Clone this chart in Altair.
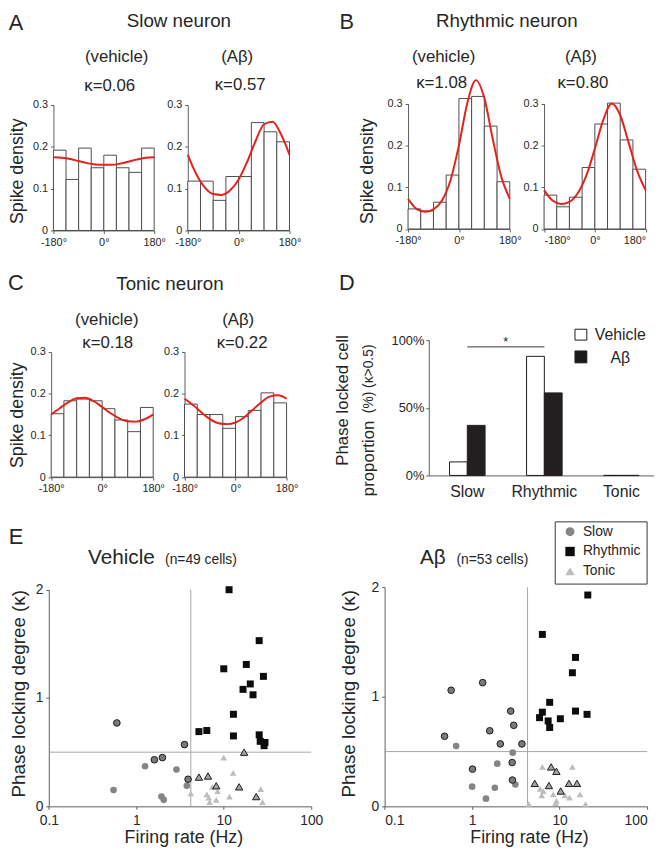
import altair as alt
import pandas as pd

# ------------------------------------------------------------------ data
bin_edges = [-180, -135, -90, -45, 0, 45, 90, 135, 180]
fit_theta = [-180, -150, -120, -90, -60, -30, 0, 30, 60, 90, 120, 150, 180]

slow_veh_hist = [0.192, 0.122, 0.197, 0.150, 0.180, 0.150, 0.139, 0.197]
slow_ab_hist = [0.118, 0.118, 0.072, 0.129, 0.129, 0.258, 0.236, 0.212]
rhy_veh_hist = [0.048, 0.043, 0.064, 0.129, 0.312, 0.317, 0.246, 0.113]
rhy_ab_hist = [0.081, 0.053, 0.076, 0.147, 0.251, 0.301, 0.213, 0.143]
ton_veh_hist = [0.152, 0.183, 0.187, 0.183, 0.164, 0.137, 0.109, 0.167]
ton_ab_hist = [0.175, 0.150, 0.150, 0.117, 0.145, 0.160, 0.202, 0.178]

slow_veh_fit = [0.175, 0.174, 0.171, 0.166, 0.161, 0.158, 0.157, 0.157, 0.160, 0.165, 0.170, 0.174, 0.175]
slow_ab_fit = [0.181, 0.135, 0.103, 0.087, 0.085, 0.096, 0.122, 0.164, 0.214, 0.254, 0.260, 0.230, 0.181]
rhy_veh_fit = [0.072, 0.048, 0.041, 0.047, 0.068, 0.116, 0.200, 0.302, 0.356, 0.313, 0.214, 0.125, 0.072]
rhy_ab_fit = [0.093, 0.068, 0.060, 0.065, 0.086, 0.128, 0.192, 0.261, 0.300, 0.272, 0.206, 0.139, 0.093]
ton_veh_fit = [0.150, 0.165, 0.179, 0.189, 0.190, 0.182, 0.168, 0.153, 0.141, 0.134, 0.133, 0.139, 0.150]
ton_ab_fit = [0.188, 0.173, 0.155, 0.139, 0.129, 0.127, 0.131, 0.143, 0.161, 0.179, 0.193, 0.196, 0.188]

d_categories = ["Slow", "Rhythmic", "Tonic"]
d_vehicle = [0.10, 0.88, 0.0]
d_abeta = [0.37, 0.61, 0.0]

# panel E, vehicle
veh_slow_rate = [0.60, 3.56, 1.99, 1.61, 1.26, 2.88, 3.91, 3.78, 0.55, 1.94, 2.06]
veh_slow_k = [0.77, 0.57, 0.45, 0.43, 0.37, 0.34, 0.25, 0.19, 0.15, 0.09, 0.06]
veh_slow_sig = [1, 1, 1, 1, 0, 0, 1, 0, 0, 0, 0]
veh_rhy_rate = [11.5, 25.4, 10.0, 18.1, 28.4, 20.1, 16.6, 21.6, 12.9, 5.2, 6.4, 12.9, 25.4, 26.1, 28.9, 29.6]
veh_rhy_k = [2.0, 1.53, 1.27, 1.31, 1.20, 1.13, 1.08, 1.03, 0.85, 0.69, 0.70, 0.65, 0.66, 0.60, 0.56, 0.59]
veh_ton_rate = [5.2, 6.6, 8.2, 15.0, 17.1, 23.5, 10.0, 12.8, 4.2, 6.4, 6.75, 6.9, 7.4, 8.5, 8.2, 11.6, 26.5, 27.7]
veh_ton_k = [0.27, 0.28, 0.19, 0.18, 0.50, 0.09, 0.45, 0.31, 0.12, 0.11, 0.08, 0.04, 0.18, 0.14, 0.06, 0.09, 0.16, 0.04]
veh_ton_sig = [1, 1, 1, 1, 1, 1, 0, 0, 0, 0, 0, 0, 0, 0, 0, 0, 0, 0]

# panel E, Abeta
ab_slow_rate = [0.576, 1.32, 2.76, 2.99, 1.59, 0.484, 0.656, 2.10, 3.71, 2.91, 1.94, 2.87, 1.01, 2.89, 3.12, 1.00, 1.82, 1.44]
ab_slow_k = [1.06, 1.13, 0.87, 0.74, 0.69, 0.64, 0.55, 0.57, 0.57, 0.49, 0.39, 0.40, 0.34, 0.24, 0.20, 0.18, 0.17, 0.07]
ab_slow_sig = [1, 1, 1, 1, 1, 1, 0, 1, 1, 0, 0, 1, 1, 1, 0, 0, 0, 0]
ab_rhy_rate = [21.0, 6.35, 15.2, 14.0, 7.7, 6.35, 15.2, 20.6, 5.9, 10.2, 7.4, 7.7]
ab_rhy_k = [1.93, 1.57, 1.36, 1.22, 0.95, 0.86, 0.87, 0.84, 0.81, 0.80, 0.78, 0.72]
ab_ton_rate = [8.0, 9.2, 5.2, 7.55, 10.3, 12.8, 15.8, 6.35, 14.0, 5.98, 6.24, 8.45, 9.2, 8.98, 11.5, 13.0, 17.1, 4.45, 19.8, 6.5]
ab_ton_k = [0.36, 0.32, 0.21, 0.19, 0.14, 0.21, 0.21, 0.36, 0.36, 0.16, 0.10, 0.11, 0.05, 0.03, 0.10, 0.08, 0.11, 0.02, 0.02, 0.14]
ab_ton_sig = [1, 1, 1, 1, 1, 1, 1, 0, 0, 0, 0, 0, 0, 0, 0, 0, 0, 0, 0, 0]

rate_threshold_veh = [4.2]
rate_threshold_ab = [4.3]
kappa_threshold = [0.5]

# ------------------------------------------------------------------ style
W, H = 654, 844
FONT = "Liberation Sans"
TXT = "#262626"
AXC = "#5c5c5c"
RED = "#e3221c"


def px(x):
    return x - 8


def py(y):
    return y - 8


def axis(orient, offset, values, fmt=None, expr=None, size=11, ticks=True, pad=2, flush=False):
    kw = dict(orient=orient, offset=offset, values=values, title=None, grid=False,
              tickSize=3, ticks=ticks, labelFlush=flush, labelOverlap=False, labelAngle=0,
              labelFontSize=size, labelFont=FONT, labelColor=TXT,
              domainColor=AXC, tickColor=AXC, labelPadding=pad)
    if fmt is not None:
        kw["format"] = fmt
    if expr is not None:
        kw["labelExpr"] = expr
    return alt.Axis(**kw)


def txt(s, x, y, size, align="center", baseline="middle", angle=0):
    return alt.Chart(pd.DataFrame({"s": [s]})).mark_text(
        align=align, baseline=baseline, fontSize=size, angle=angle, font=FONT, color=TXT
    ).encode(x=alt.value(px(x)), y=alt.value(py(y)), text="s:N")


def hist_panel(vals, fit, x0, x1, y0, y3, flush=False):
    bars = pd.DataFrame({"b0": bin_edges[:-1], "b1": bin_edges[1:], "v": vals})
    curve = pd.DataFrame({"t": fit_theta, "f": fit})
    xs = alt.Scale(domain=[-180, 180], range=[px(x0), px(x1)], nice=False, zero=False)
    ys = alt.Scale(domain=[0, 0.3], range=[py(y0), py(y3)], nice=False, zero=False)
    xax = axis("bottom", py(y0) - H, [-180, 0, 180], expr="datum.value + '°'", pad=3, flush=flush)
    yax = axis("left", -px(x0), [0, 0.1, 0.2, 0.3], fmt=".1~f", pad=3)
    b = alt.Chart(bars).mark_rect(fill="white", stroke="#4d4d4d", strokeWidth=1).encode(
        x=alt.X("b0:Q", scale=xs, axis=xax), x2="b1:Q",
        y=alt.Y("v:Q", scale=ys, axis=yax), y2=alt.datum(0))
    c = alt.Chart(curve).mark_line(color=RED, strokeWidth=2, interpolate="monotone").encode(
        x=alt.X("t:Q", scale=xs, axis=xax), y=alt.Y("f:Q", scale=ys, axis=yax))
    return alt.layer(b, c)


def d_panel():
    df = pd.DataFrame({"cat": d_categories, "veh": d_vehicle, "ab": d_abeta})
    xs = alt.Scale(domain=d_categories, range=[px(434), px(668)], paddingInner=0, paddingOuter=0)
    ys = alt.Scale(domain=[0, 1], range=[py(476), py(339)], nice=False, zero=False)
    xax = axis("bottom", py(476) - H, d_categories, size=16, ticks=False, pad=8)
    yax = axis("left", -px(434), [0, 0.5, 1], fmt=".0%", size=13, pad=2)
    xe = alt.X("cat:N", scale=xs, axis=xax, sort=d_categories)
    veh = alt.Chart(df).mark_bar(size=18, xOffset=-9, fill="white", stroke="#1a1a1a", strokeWidth=1).encode(
        x=xe, y=alt.Y("veh:Q", scale=ys, axis=yax))
    ab = alt.Chart(df).mark_bar(size=18, xOffset=9, fill="#231f20", stroke="#231f20", strokeWidth=1).encode(
        x=xe, y=alt.Y("ab:Q", scale=ys, axis=yax))
    sig = alt.Chart(pd.DataFrame({"a": ["Slow"], "b": ["Rhythmic"], "y": [0.95]})).mark_rule(
        color="#333", strokeWidth=1).encode(
        x=alt.X("a:N", scale=xs, axis=xax, sort=d_categories), x2="b:N",
        y=alt.Y("y:Q", scale=ys, axis=yax))
    return alt.layer(veh, ab, sig)


def e_panel(sr, sk, ssig, rr, rk, tr, tk, tsig, vline, x0, x1, y0, y2, flush=False):
    slow = pd.DataFrame({"r": sr, "k": sk, "sig": ssig})
    rhy = pd.DataFrame({"r": rr, "k": rk})
    ton = pd.DataFrame({"r": tr, "k": tk, "sig": tsig})
    xs = alt.Scale(type="log", domain=[0.1, 100], range=[px(x0), px(x1)], nice=False)
    ys = alt.Scale(domain=[0, 2], range=[py(y0), py(y2)], nice=False, zero=False)
    xax = axis("bottom", py(y0) - H, [0.1, 1, 10, 100], fmt="~g", size=14, pad=4, flush=flush)
    yax = axis("left", -px(x0), [0, 1, 2], fmt="~g", size=14, pad=3)
    X = alt.X("r:Q", scale=xs, axis=xax)
    Y = alt.Y("k:Q", scale=ys, axis=yax)
    vl = alt.Chart(pd.DataFrame({"r": vline})).mark_rule(color="#a6a6a6", strokeWidth=1).encode(
        x=X, y=alt.Y(datum=0, scale=ys, axis=yax), y2=alt.datum(2))
    hl = alt.Chart(pd.DataFrame({"k": kappa_threshold})).mark_rule(color="#a6a6a6", strokeWidth=1).encode(
        y=Y, x=alt.X(datum=0.1, scale=xs, axis=xax), x2=alt.datum(100))
    t0 = alt.Chart(ton[ton.sig == 0]).mark_point(shape="triangle-up", filled=True, size=45,
                                                  color="#bdbdbd", opacity=1).encode(x=X, y=Y)
    s0 = alt.Chart(slow[slow.sig == 0]).mark_point(shape="circle", filled=True, size=45,
                                                   color="#858585", opacity=1).encode(x=X, y=Y)
    s1 = alt.Chart(slow[slow.sig == 1]).mark_point(shape="circle", filled=True, size=45,
                                                   fill="#7a7a7a", stroke="#1a1a1a", strokeWidth=1,
                                                   opacity=1).encode(x=X, y=Y)
    r = alt.Chart(rhy).mark_point(shape="square", filled=True, size=50, color="#0d0d0d",
                                  opacity=1).encode(x=X, y=Y)
    t1 = alt.Chart(ton[ton.sig == 1]).mark_point(shape="triangle-up", filled=True, size=55,
                                                  fill="#a3a3a3", stroke="#1a1a1a", strokeWidth=1,
                                                  opacity=1).encode(x=X, y=Y)
    return alt.layer(vl, hl, t0, s0, s1, r, t1)


def box(x0, y0, x1, y1, fill, stroke):
    return alt.Chart(pd.DataFrame({"a": [0]})).mark_rect(fill=fill, stroke=stroke, strokeWidth=1).encode(
        x=alt.value(px(x0)), x2=alt.value(px(x1)), y=alt.value(py(y0)), y2=alt.value(py(y1)))


def sym(shape, x, y, size, fill):
    return alt.Chart(pd.DataFrame({"a": [0]})).mark_point(shape=shape, filled=True, size=size,
                                                          color=fill, opacity=1).encode(
        x=alt.value(px(x)), y=alt.value(py(y)))


layers = [
    # panel A
    hist_panel(slow_veh_hist, slow_veh_fit, 54, 156, 228, 101),
    hist_panel(slow_ab_hist, slow_ab_fit, 190, 293, 228, 101),
    # panel B
    hist_panel(rhy_veh_hist, rhy_veh_fit, 413, 516, 226.5, 99.5),
    hist_panel(rhy_ab_hist, rhy_ab_fit, 550.7, 653.5, 226.5, 99.5, flush=True),
    # panel C
    hist_panel(ton_veh_hist, ton_veh_fit, 51.7, 155, 477.7, 351),
    hist_panel(ton_ab_hist, ton_ab_fit, 186.7, 290, 477.7, 351),
    # panel D
    d_panel(),
    # panel E
    e_panel(veh_slow_rate, veh_slow_k, veh_slow_sig, veh_rhy_rate, veh_rhy_k,
            veh_ton_rate, veh_ton_k, veh_ton_sig, rate_threshold_veh, 49.3, 315, 811, 591.7),
    e_panel(ab_slow_rate, ab_slow_k, ab_slow_sig, ab_rhy_rate, ab_rhy_k,
            ab_ton_rate, ab_ton_k, ab_ton_sig, rate_threshold_ab, 389.3, 655, 811, 589.3, flush=True),
]

texts = [
    txt("A", 16, 18, 22), txt("B", 351, 17, 22), txt("C", 16, 281, 22),
    txt("D", 351, 281, 22), txt("E", 16, 538, 22),
    txt("Slow neuron", 181, 16, 19), txt("Rhythmic neuron", 513, 16, 19), txt("Tonic neuron", 172, 282, 19),
    txt("(vehicle)", 118, 52, 17), txt("κ=0.06", 111, 82, 17),
    txt("(Aβ)", 240, 52, 17), txt("κ=0.57", 243, 81, 17),
    txt("(vehicle)", 449, 52, 17), txt("κ=1.08", 447, 79, 17),
    txt("(Aβ)", 588, 52, 17), txt("κ=0.80", 590, 79, 17),
    txt("(vehicle)", 108, 319, 17), txt("κ=0.18", 109, 342, 17),
    txt("(Aβ)", 241, 319, 17), txt("κ=0.22", 245, 342, 17),
    txt("Spike density", 18, 168, 18, angle=270),
    txt("Spike density", 373, 168, 18, angle=270),
    txt("Spike density", 18, 415, 18, angle=270),
    # panel D texts
    txt("Phase locked cell", 347, 400, 17, angle=270),
    txt("proportion", 374, 497, 17, align="left", angle=270),
    txt("(%) (κ>0.5)", 374, 413, 14, align="left", angle=270),
    txt("*", 512, 341, 13),
    box(582, 328, 594, 339, "white", "#1a1a1a"),
    box(582, 350, 594, 362, "#1a1a1a", "#1a1a1a"),
    txt("Vehicle", 602, 334, 16, align="left"),
    txt("Aβ", 618, 357, 16, align="left"),
    # panel E texts
    txt("Vehicle", 89, 566, 21, align="left", baseline="alphabetic"),
    txt("(n=49 cells)", 167, 566, 14, align="left", baseline="alphabetic"),
    txt("Aβ", 425, 566, 21, align="left", baseline="alphabetic"),
    txt("(n=53 cells)", 462, 566, 14, align="left", baseline="alphabetic"),
    txt("Phase locking degree (κ)", 19, 697, 19, angle=270),
    txt("Phase locking degree (κ)", 353, 697, 19, angle=270),
    txt("Firing rate (Hz)", 186, 843, 18),
    txt("Firing rate (Hz)", 536, 843, 18),
    box(562, 523, 655, 586, "white", "#333333"),
    sym("circle", 577, 533, 80, "#858585"),
    sym("square", 577, 553, 90, "#0d0d0d"),
    sym("triangle-up", 577, 573, 90, "#bdbdbd"),
    txt("Slow", 590, 533, 14, align="left"),
    txt("Rhythmic", 590, 553, 14, align="left"),
    txt("Tonic", 590, 573, 14, align="left"),
]

chart = alt.layer(*layers, *texts).resolve_scale(
    x="independent", y="independent"
).properties(
    width=W, height=H, padding=0, autosize=alt.AutoSizeParams(type="none")
).configure_view(strokeWidth=0)

chart.save("out.html", embed_options={"renderer": "svg", "actions": False})
